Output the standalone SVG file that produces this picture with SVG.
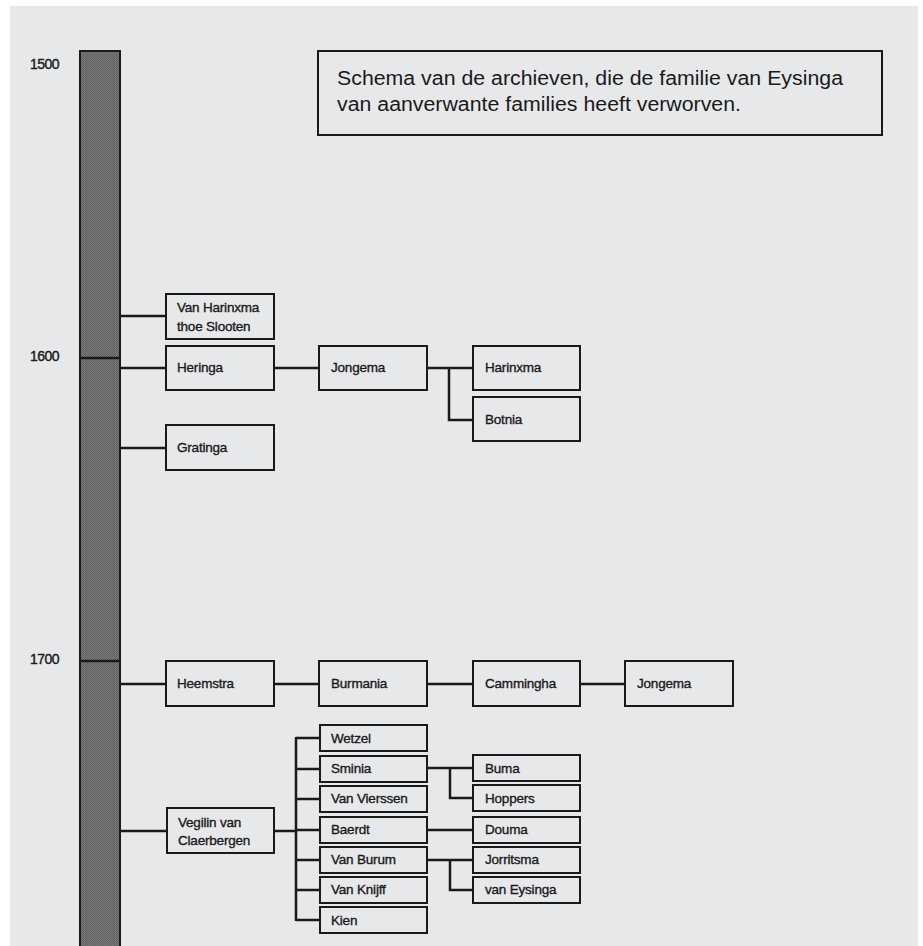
<svg xmlns="http://www.w3.org/2000/svg" width="923" height="946" viewBox="0 0 923 946">
<defs>
<pattern id="dither" width="2" height="2" patternUnits="userSpaceOnUse">
<rect width="2" height="2" fill="#7a7a7a"/>
<rect width="1" height="1" fill="#606060"/>
<rect x="1" y="1" width="1" height="1" fill="#606060"/>
</pattern>
</defs>
<style>
.box{fill:none;stroke:#1a1a1a;stroke-width:2}
.lbl{font-family:"Liberation Sans",Arial,sans-serif;font-size:13.5px;fill:#1a1a1a;stroke:#1a1a1a;stroke-width:0.35px;letter-spacing:-0.2px}
.yr{font-family:"Liberation Sans",Arial,sans-serif;font-size:14px;fill:#1a1a1a;stroke:#1a1a1a;stroke-width:0.4px;letter-spacing:-0.5px}
.ttl{font-family:"Liberation Sans",Arial,sans-serif;font-size:19.5px;fill:#1a1a1a}
.con{fill:none;stroke:#1a1a1a;stroke-width:2.5}
</style>
<rect width="923" height="946" fill="#ffffff"/>
<rect x="10" y="6" width="908" height="940" fill="#e7e8ea"/>

<g id="timeline">
<rect x="80" y="51" width="40" height="900" fill="url(#dither)" stroke="#1a1a1a" stroke-width="2"/>
<line x1="80" y1="358" x2="120" y2="358" stroke="#1a1a1a" stroke-width="2.5"/>
<line x1="80" y1="661" x2="120" y2="661" stroke="#1a1a1a" stroke-width="2.5"/>
<text class="yr" x="30" y="69">1500</text>
<text class="yr" x="30" y="361">1600</text>
<text class="yr" x="30" y="664">1700</text>
</g>

<g id="title">
<rect x="318" y="51" width="564" height="84" class="box"/>
<text class="ttl" x="337" y="85" textLength="506" lengthAdjust="spacingAndGlyphs">Schema van de archieven, die de familie van Eysinga</text>
<text class="ttl" x="337" y="111" textLength="404" lengthAdjust="spacingAndGlyphs">van aanverwante families heeft verworven.</text>
</g>

<g id="connectors">
<line class="con" x1="121" y1="316" x2="166" y2="316"/>
<line class="con" x1="121" y1="368" x2="166" y2="368"/>
<line class="con" x1="121" y1="448" x2="166" y2="448"/>
<line class="con" x1="274" y1="368" x2="319" y2="368"/>
<polyline class="con" points="427,368 473,368"/>
<polyline class="con" points="449,368 449,420 473,420"/>
<line class="con" x1="121" y1="684" x2="166" y2="684"/>
<line class="con" x1="274" y1="684" x2="319" y2="684"/>
<line class="con" x1="427" y1="684" x2="473" y2="684"/>
<line class="con" x1="580" y1="684" x2="625" y2="684"/>
<line class="con" x1="121" y1="831" x2="167" y2="831"/>
<line class="con" x1="274" y1="831" x2="296" y2="831"/>
<line class="con" x1="296" y1="737" x2="296" y2="921"/>
<line class="con" x1="296" y1="738" x2="320" y2="738"/>
<line class="con" x1="296" y1="769" x2="320" y2="769"/>
<line class="con" x1="296" y1="799" x2="320" y2="799"/>
<line class="con" x1="296" y1="830" x2="320" y2="830"/>
<line class="con" x1="296" y1="860" x2="320" y2="860"/>
<line class="con" x1="296" y1="890" x2="320" y2="890"/>
<line class="con" x1="296" y1="920" x2="320" y2="920"/>
<line class="con" x1="427" y1="768" x2="473" y2="768"/>
<polyline class="con" points="450,768 450,798 473,798"/>
<line class="con" x1="427" y1="830" x2="473" y2="830"/>
<line class="con" x1="427" y1="860" x2="473" y2="860"/>
<polyline class="con" points="450,860 450,890 473,890"/>
</g>

<g id="van-harinxma-thoe-slooten"><rect class="box" x="166" y="294" width="108" height="45"/><text class="lbl" x="177" y="312">Van Harinxma</text><text class="lbl" x="177" y="331">thoe Slooten</text></g>
<g id="heringa"><rect class="box" x="166" y="346" width="108" height="44"/><text class="lbl" x="177" y="372">Heringa</text></g>
<g id="gratinga"><rect class="box" x="166" y="425" width="108" height="45"/><text class="lbl" x="177" y="452">Gratinga</text></g>
<g id="jongema-1"><rect class="box" x="319" y="346" width="108" height="44"/><text class="lbl" x="331" y="372">Jongema</text></g>
<g id="harinxma"><rect class="box" x="473" y="346" width="107" height="44"/><text class="lbl" x="485" y="372">Harinxma</text></g>
<g id="botnia"><rect class="box" x="473" y="397" width="107" height="44"/><text class="lbl" x="485" y="424">Botnia</text></g>

<g id="heemstra"><rect class="box" x="166" y="661" width="108" height="45"/><text class="lbl" x="177" y="688">Heemstra</text></g>
<g id="burmania"><rect class="box" x="319" y="661" width="108" height="45"/><text class="lbl" x="331" y="688">Burmania</text></g>
<g id="cammingha"><rect class="box" x="473" y="661" width="107" height="45"/><text class="lbl" x="485" y="688">Cammingha</text></g>
<g id="jongema-2"><rect class="box" x="625" y="661" width="108" height="45"/><text class="lbl" x="637" y="688">Jongema</text></g>

<g id="vegilin-van-claerbergen"><rect class="box" x="167" y="808" width="107" height="45"/><text class="lbl" x="178" y="827">Vegilin van</text><text class="lbl" x="178" y="845">Claerbergen</text></g>
<g id="wetzel"><rect class="box" x="320" y="725" width="107" height="26"/><text class="lbl" x="331" y="743">Wetzel</text></g>
<g id="sminia"><rect class="box" x="320" y="756" width="107" height="26"/><text class="lbl" x="331" y="773">Sminia</text></g>
<g id="van-vierssen"><rect class="box" x="320" y="786" width="107" height="26"/><text class="lbl" x="331" y="803">Van Vierssen</text></g>
<g id="baerdt"><rect class="box" x="320" y="817" width="107" height="26"/><text class="lbl" x="331" y="834">Baerdt</text></g>
<g id="van-burum"><rect class="box" x="320" y="847" width="107" height="26"/><text class="lbl" x="331" y="864">Van Burum</text></g>
<g id="van-knijff"><rect class="box" x="320" y="877" width="107" height="26"/><text class="lbl" x="331" y="894">Van Knijff</text></g>
<g id="kien"><rect class="box" x="320" y="907" width="107" height="26"/><text class="lbl" x="331" y="925">Kien</text></g>
<g id="buma"><rect class="box" x="473" y="755" width="107" height="26"/><text class="lbl" x="485" y="773">Buma</text></g>
<g id="hoppers"><rect class="box" x="473" y="785" width="107" height="26"/><text class="lbl" x="485" y="803">Hoppers</text></g>
<g id="douma"><rect class="box" x="473" y="817" width="107" height="26"/><text class="lbl" x="485" y="834">Douma</text></g>
<g id="jorritsma"><rect class="box" x="473" y="847" width="107" height="26"/><text class="lbl" x="485" y="864">Jorritsma</text></g>
<g id="van-eysinga"><rect class="box" x="473" y="877" width="107" height="26"/><text class="lbl" x="485" y="894">van Eysinga</text></g>
</svg>
